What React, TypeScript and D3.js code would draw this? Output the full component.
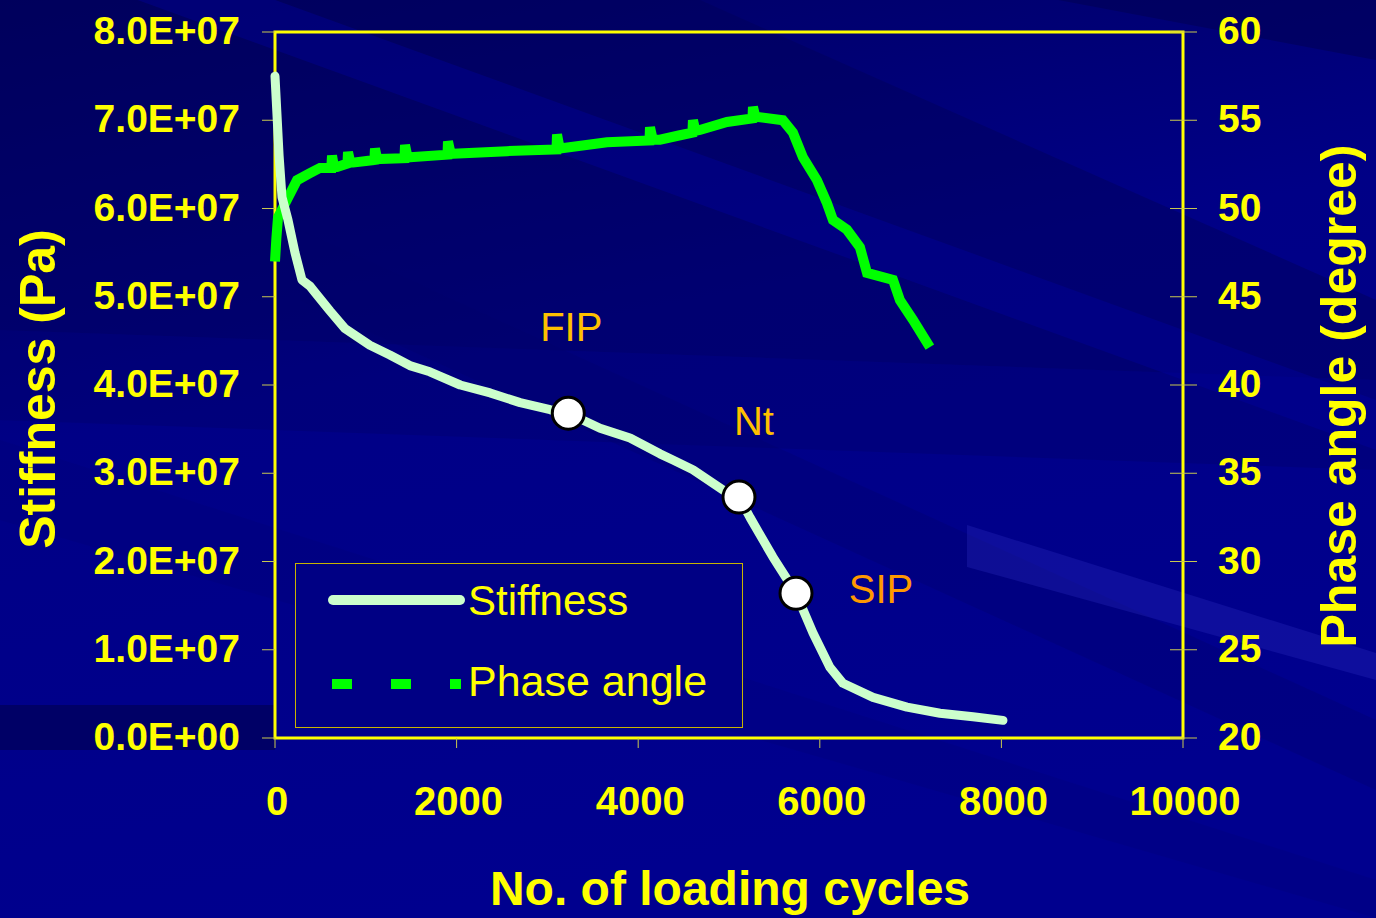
import React from "react";
import * as d3 from "d3";

// ---- data ----
const stiffCycles = [0, 20, 45, 77, 143, 220, 297, 385, 440, 605, 770, 1045, 1265, 1485, 1705, 2040, 2370, 2700, 3030, 3230, 3580, 3910, 4240, 4383, 4603, 4934, 5110, 5231, 5484, 5738, 5925, 6112, 6255, 6586, 6960, 7324, 7687, 8017];
const stiffValues = [7.5e7, 7.1e7, 6.6e7, 6.13e7, 5.87e7, 5.5e7, 5.19e7, 5.12e7, 5.05e7, 4.84e7, 4.64e7, 4.45e7, 4.34e7, 4.22e7, 4.15e7, 4.0e7, 3.91e7, 3.8e7, 3.72e7, 3.68e7, 3.51e7, 3.4e7, 3.22e7, 3.15e7, 3.04e7, 2.81e7, 2.73e7, 2.5e7, 2.05e7, 1.64e7, 1.19e7, 0.8e7, 0.62e7, 0.46e7, 0.35e7, 0.28e7, 0.24e7, 0.2e7];

const phaseCycles = [0, 15, 33, 132, 242, 385, 496, 620, 628, 650, 683, 798, 804, 830, 859, 1095, 1101, 1125, 1426, 1432, 1460, 1487, 1900, 1905, 1935, 1960, 2555, 3100, 3106, 3135, 3139, 3656, 4124, 4130, 4160, 4240, 4460, 4597, 4603, 4630, 4680, 4978, 5258, 5264, 5290, 5594, 5704, 5814, 5969, 6079, 6145, 6299, 6442, 6520, 6806, 6883, 7025, 7212];
const phaseValues = [47.0, 48.3, 49.5, 50.5, 51.6, 52.0, 52.3, 52.3, 53.0, 52.35, 52.35, 52.55, 53.2, 52.6, 52.6, 52.75, 53.4, 52.8, 52.85, 53.6, 52.9, 52.9, 53.05, 53.8, 53.1, 53.1, 53.25, 53.35, 54.2, 53.4, 53.4, 53.75, 53.85, 54.6, 53.9, 53.9, 54.15, 54.3, 55.0, 54.4, 54.45, 54.9, 55.1, 55.75, 55.2, 55.0, 54.3, 52.9, 51.6, 50.3, 49.35, 48.8, 47.8, 46.35, 45.95, 44.8, 43.7, 42.15];

const markerNames = ["FIP", "Nt", "SIP"];
const markerCycles = [3230, 5110, 5738];
const markerStiffness = [3.68e7, 2.73e7, 1.64e7];

const xTicks = [0, 2000, 4000, 6000, 8000, 10000];
const leftTicks = [0, 1e7, 2e7, 3e7, 4e7, 5e7, 6e7, 7e7, 8e7];
const leftTickLabels = ["0.0E+00", "1.0E+07", "2.0E+07", "3.0E+07", "4.0E+07", "5.0E+07", "6.0E+07", "7.0E+07", "8.0E+07"];
const rightTicks = [20, 25, 30, 35, 40, 45, 50, 55, 60];

const seriesNames = ["Stiffness", "Phase angle"];

// ---- layout ----
const W = 1376, H = 918;
const L = 275, R = 1183, T = 32, B = 738;
const FONT = "'Liberation Sans', Arial, sans-serif";
const YELLOW = "#ffff00";

// decorative background bands (polygons)
const bands = [
  { p: "0,0 1376,0 1376,60 0,-200", c: "#000050", o: 0.5 },
  { p: "0,0 700,0 1376,300 1376,380 0,330", c: "#000058", o: 0.45 },
  { p: "0,330 1376,380 1376,470 0,420", c: "#000062", o: 0.3 },
  { p: "300,230 1376,720 1376,790 300,300", c: "#00006a", o: 0.3 },
  { p: "0,440 1376,880 1376,918 0,520", c: "#00006e", o: 0.2 },
  { p: "0,705 275,705 275,750 0,750", c: "#00004e", o: 0.6 },
  { p: "0,-100 1376,400 1376,450 0,-50", c: "#0000a4", o: 0.35 },
  { p: "967,525 1376,653 1376,680 967,567", c: "#3030c4", o: 0.3 },
];

export default function App() {
  const x = d3.scaleLinear().domain([0, 10000]).range([L, R]);
  const yL = d3.scaleLinear().domain([0, 8e7]).range([B, T]);
  const yR = d3.scaleLinear().domain([20, 60]).range([B, T]);

  const stiffData = stiffCycles.map((c, i) => [c, stiffValues[i]] as [number, number]);
  const phaseData = phaseCycles.map((c, i) => [c, phaseValues[i]] as [number, number]);

  const stiffLine = d3.line<[number, number]>().x(d => x(d[0])).y(d => yL(d[1]));
  const phaseLine = d3.line<[number, number]>().x(d => x(d[0])).y(d => yR(d[1]));

  const annColors = ["#ffc000", "#ffc000", "#ff9900"];
  const annOffsets = [[3, -72], [15, -62], [85, 10]];

  return (
    <svg width={W} height={H} style={{ position: "absolute", left: 0, top: 0 }} fontFamily={FONT}>
      <defs>
        <linearGradient id="bg" x1="0" y1="0" x2="0.3" y2="1">
          <stop offset="0" stopColor="#000060" />
          <stop offset="0.45" stopColor="#000086" />
          <stop offset="1" stopColor="#00008e" />
        </linearGradient>
      </defs>
      <rect x={0} y={0} width={W} height={H} fill="url(#bg)" />
      {bands.map((b, i) => (
        <polygon key={i} points={b.p} fill={b.c} opacity={b.o} />
      ))}

      {/* frame */}
      <rect x={L} y={T} width={R - L} height={B - T} fill="none" stroke={YELLOW} strokeWidth={3} />

      {/* ticks */}
      {leftTicks.map((t, i) => (
        <g key={"l" + i}>
          <line x1={262} x2={L} y1={yL(t)} y2={yL(t)} stroke="#c8c850" strokeWidth={1} />
          <text x={240} y={yL(t) + 12} fill={YELLOW} fontSize={39} fontWeight="bold" textAnchor="end">{leftTickLabels[i]}</text>
        </g>
      ))}
      {rightTicks.map((t, i) => (
        <g key={"r" + i}>
          <line x1={1170} x2={1197} y1={yR(t)} y2={yR(t)} stroke="#c8c850" strokeWidth={1} />
          <text x={1218} y={yR(t) + 12} fill={YELLOW} fontSize={39} fontWeight="bold" textAnchor="start">{t}</text>
        </g>
      ))}
      {xTicks.map((t, i) => (
        <g key={"x" + i}>
          <line x1={x(t)} x2={x(t)} y1={B} y2={B + 10} stroke="#c8c850" strokeWidth={1} />
          <text x={x(t) + 2} y={815} fill={YELLOW} fontSize={40} fontWeight="bold" textAnchor="middle">{t}</text>
        </g>
      ))}

      {/* axis titles */}
      <text transform="translate(38,389) rotate(-90)" fill={YELLOW} fontSize={50} fontWeight="bold" textAnchor="middle" dominantBaseline="central">Stiffness (Pa)</text>
      <text transform="translate(1339,396) rotate(-90)" fill={YELLOW} fontSize={50} fontWeight="bold" textAnchor="middle" dominantBaseline="central">Phase angle (degree)</text>
      <text x={730} y={905} fill={YELLOW} fontSize={48} fontWeight="bold" textAnchor="middle">No. of loading cycles</text>

      {/* series */}
      <path d={phaseLine(phaseData) || ""} fill="none" stroke="#00ff00" strokeWidth={10} strokeLinejoin="miter" />
      <path d={stiffLine(stiffData) || ""} fill="none" stroke="#ccffcc" strokeWidth={9} strokeLinejoin="round" strokeLinecap="round" />

      {/* markers */}
      {markerNames.map((n, i) => (
        <g key={n}>
          <circle cx={x(markerCycles[i])} cy={yL(markerStiffness[i])} r={16} fill="#ffffff" stroke="#000000" strokeWidth={3} />
          <text x={x(markerCycles[i]) + annOffsets[i][0]} y={yL(markerStiffness[i]) + annOffsets[i][1]} fill={annColors[i]} fontSize={40} textAnchor="middle">{n}</text>
        </g>
      ))}

      {/* legend */}
      <rect x={295.5} y={563.5} width={447} height={164} fill="#000084" stroke="#c8b400" strokeWidth={1} />
      <line x1={333} x2={460} y1={600} y2={600} stroke="#ccffcc" strokeWidth={10} strokeLinecap="round" />
      <text x={468} y={615} fill={YELLOW} fontSize={42}>{seriesNames[0]}</text>
      <line x1={332} x2={461} y1={684} y2={684} stroke="#00ff00" strokeWidth={10} strokeDasharray="20 39" />
      <text x={468} y={696} fill={YELLOW} fontSize={43}>{seriesNames[1]}</text>
    </svg>
  );
}
